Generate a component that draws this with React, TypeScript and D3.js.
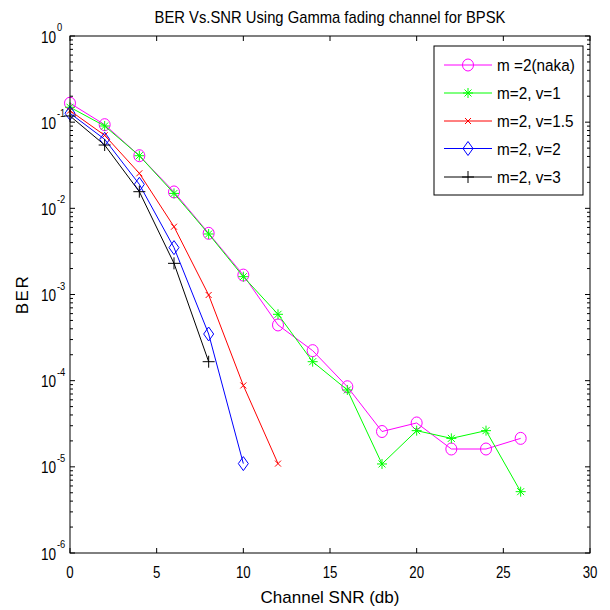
import React from "react";
import * as d3 from "d3";

const snr = [0, 2, 4, 6, 8, 10, 12, 14, 16, 18, 20, 22, 24, 26];
const naka = [0.166, 0.0935, 0.0408, 0.0155, 0.00513, 0.00168, 0.000443, 0.000223, 8.5e-5, 2.57e-5, 3.23e-5, 1.61e-5, 1.61e-5, 2.14e-5];
const v1 = [0.149, 0.0903, 0.0408, 0.0149, 0.00504, 0.00161, 0.000589, 0.000166, 7.8e-5, 1.08e-5, 2.63e-5, 2.14e-5, 2.63e-5, 5.15e-6];
const v15 = [0.136, 0.0704, 0.0255, 0.00612, 0.000987, 8.8e-5, 1.09e-5];
const v2 = [0.127, 0.0633, 0.019, 0.0035, 0.000348, 1.09e-5];
const v3 = [0.118, 0.0543, 0.0156, 0.0023, 0.000166];

const seriesNames = ["m =2(naka)", "m=2, v=1", "m=2, v=1.5", "m=2, v=2", "m=2, v=3"];
const seriesColors = ["#ff00ff", "#00ff00", "#ff0000", "#0000ff", "#000000"];
const seriesMarkers = ["circle", "star", "x", "diamond", "plus"];
const seriesValues = [naka, v1, v15, v2, v3];

const xTicks = [0, 5, 10, 15, 20, 25, 30];
const yExponents = [0, -1, -2, -3, -4, -5, -6];

const title = "BER Vs.SNR Using Gamma fading channel for BPSK";
const xLabel = "Channel SNR (db)";
const yLabel = "BER";

const FONT = "'Liberation Sans', Arial, sans-serif";

const L = 70, R = 590, T = 36, B = 553;

function Marker({ type, x, y, color }: { type: string; x: number; y: number; color: string }) {
  const sw = 1;
  if (type === "circle") return <ellipse cx={x} cy={y} rx={5.5} ry={6} fill="none" stroke={color} strokeWidth={sw} />;
  if (type === "diamond")
    return <path d={`M${x},${y - 7}L${x + 5},${y}L${x},${y + 7}L${x - 5},${y}Z`} fill="none" stroke={color} strokeWidth={sw} />;
  if (type === "x")
    return <path d={`M${x - 3},${y - 3}L${x + 3},${y + 3}M${x - 3},${y + 3}L${x + 3},${y - 3}`} stroke={color} strokeWidth={sw} />;
  if (type === "plus")
    return <path d={`M${x - 6},${y}L${x + 6},${y}M${x},${y - 6}L${x},${y + 6}`} stroke={color} strokeWidth={sw} />;
  return (
    <path
      d={`M${x - 5},${y}L${x + 5},${y}M${x},${y - 5}L${x},${y + 5}M${x - 3.5},${y - 3.5}L${x + 3.5},${y + 3.5}M${x - 3.5},${y + 3.5}L${x + 3.5},${y - 3.5}`}
      stroke={color}
      strokeWidth={sw}
    />
  );
}

function T2({ x, y, sx, size, anchor, children }: { x: number; y: number; sx: number; size: number; anchor?: string; children: React.ReactNode }) {
  return (
    <text
      transform={`translate(${x},${y}) scale(${sx},1)`}
      fontFamily={FONT}
      fontSize={size}
      textAnchor={anchor || "start"}
      fill="#000"
    >
      {children}
    </text>
  );
}

export default function App() {
  const x = d3.scaleLinear().domain([0, 30]).range([L, R]);
  const y = d3.scaleLog().domain([1e-6, 1]).range([B, T]);
  const line = d3
    .line<[number, number]>()
    .x((d) => x(d[0]))
    .y((d) => y(d[1]));

  const minor: number[] = [];
  for (let e = -6; e < 0; e++) for (let k = 2; k <= 9; k++) minor.push(k * Math.pow(10, e));

  const legendRows = [65, 93, 121, 148.5, 177];

  return (
    <svg width={610} height={610} style={{ display: "block", position: "absolute", left: 0, top: 0 }}>
      <rect x={0} y={0} width={610} height={610} fill="#fff" />
      <g stroke="#000" strokeWidth={1}>
        {xTicks.map((t) => (
          <g key={"xt" + t}>
            <line x1={x(t)} x2={x(t)} y1={B} y2={B - 5} />
            <line x1={x(t)} x2={x(t)} y1={T} y2={T + 5} />
          </g>
        ))}
        {yExponents.map((e) => (
          <g key={"yt" + e}>
            <line x1={L} x2={L + 5} y1={y(Math.pow(10, e))} y2={y(Math.pow(10, e))} />
            <line x1={R} x2={R - 5} y1={y(Math.pow(10, e))} y2={y(Math.pow(10, e))} />
          </g>
        ))}
        {minor.map((m, i) => (
          <g key={"mn" + i}>
            <line x1={L} x2={L + 3} y1={y(m)} y2={y(m)} />
            <line x1={R} x2={R - 3} y1={y(m)} y2={y(m)} />
          </g>
        ))}
      </g>
      {seriesValues.map((vals, si) => {
        const pts = vals.map((v, i) => [snr[i], v] as [number, number]);
        return (
          <g key={"s" + si}>
            <path d={line(pts) || ""} fill="none" stroke={seriesColors[si]} strokeWidth={1} />
            {pts.map((p, i) => (
              <Marker key={i} type={seriesMarkers[si]} x={x(p[0])} y={y(p[1])} color={seriesColors[si]} />
            ))}
          </g>
        );
      })}
      <rect x={L} y={T} width={R - L} height={B - T} fill="none" stroke="#000" strokeWidth={1} />
      {xTicks.map((t) => (
        <T2 key={"xl" + t} x={x(t)} y={B + 25} sx={0.78} size={17} anchor="middle">
          {t}
        </T2>
      ))}
      {yExponents.map((e) => (
        <g key={"yl" + e}>
          <T2 x={56} y={y(Math.pow(10, e)) + 6.5} sx={0.8} size={17} anchor="end">
            10
          </T2>
          <T2 x={57} y={y(Math.pow(10, e)) - 5} sx={0.85} size={11}>
            {e === 0 ? "0" : "-" + Math.abs(e)}
          </T2>
        </g>
      ))}
      <T2 x={(L + R) / 2} y={23} sx={0.87} size={17} anchor="middle">
        {title}
      </T2>
      <T2 x={(L + R) / 2} y={603} sx={1} size={17} anchor="middle">
        {xLabel}
      </T2>
      <text
        transform={`translate(28,${(T + B) / 2}) rotate(-90)`}
        textAnchor="middle"
        fontFamily={FONT}
        fontSize={17}
        letterSpacing={1.5}
      >
        {yLabel}
      </text>
      <rect x={434} y={46} width={149} height={149} fill="#fff" stroke="#000" strokeWidth={1} />
      {seriesNames.map((n, i) => (
        <g key={"lg" + i}>
          <line x1={444} x2={492} y1={legendRows[i]} y2={legendRows[i]} stroke={seriesColors[i]} strokeWidth={1} />
          <Marker type={seriesMarkers[i]} x={468} y={legendRows[i]} color={seriesColors[i]} />
          <T2 x={497} y={legendRows[i] + 6} sx={0.9} size={17}>
            {n}
          </T2>
        </g>
      ))}
    </svg>
  );
}
